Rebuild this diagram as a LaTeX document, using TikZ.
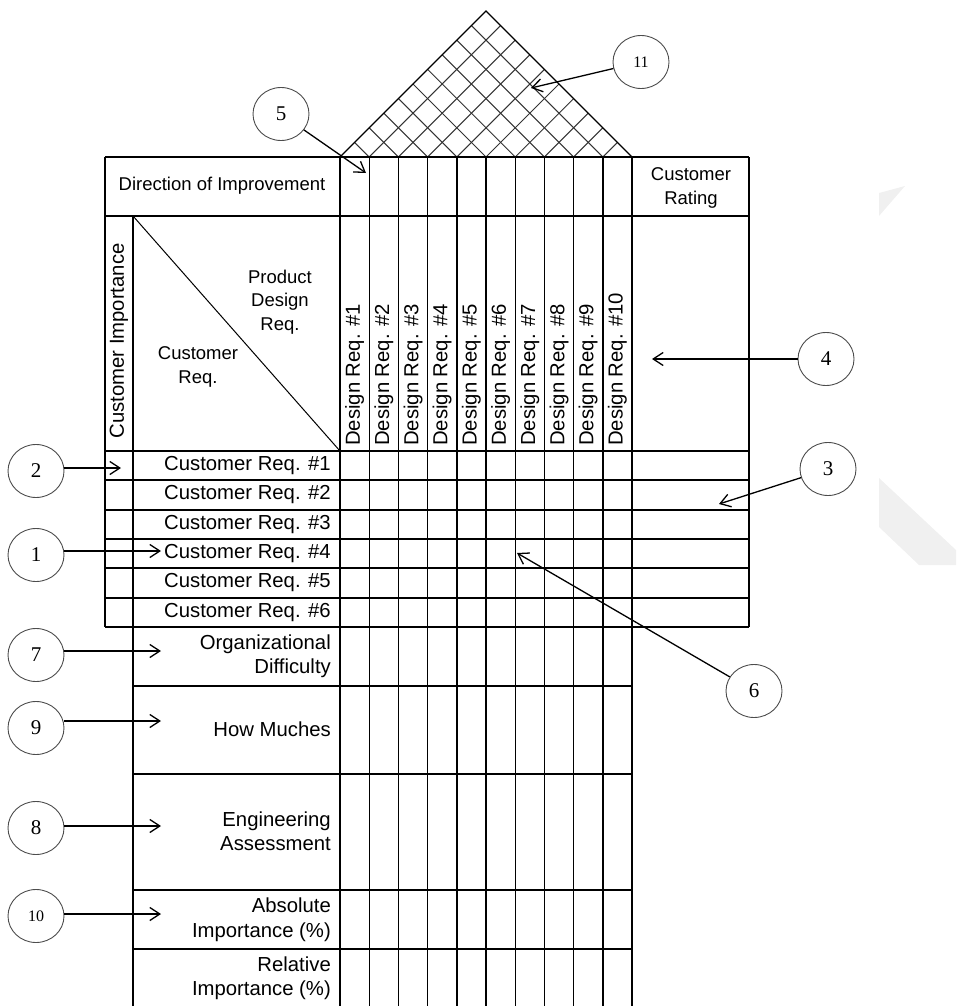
\documentclass[tikz,border=0pt]{standalone}
\usepackage{fontspec}
\setmainfont{Liberation Sans}
\newfontfamily\numfont{Liberation Serif}
\usetikzlibrary{arrows.meta,shapes.geometric}

\begin{document}
\begin{tikzpicture}[x=1pt,y=-1pt,
  tbl/.style={line width=1.4pt},
  hatch/.style={line width=1pt, black!80},
  hdr/.style={inner sep=0pt, font=\fontsize{18.5}{23.5}\selectfont, align=center},
  lbl/.style={inner sep=0pt, font=\fontsize{20.3}{24.5}\selectfont},
  num/.style={ellipse, draw=black!70, line width=0.9pt, minimum width=56pt,
    minimum height=53pt, inner sep=0pt, font=\numfont\fontsize{21}{21}\selectfont},
  smallnum/.style={num, font=\numfont\fontsize{16}{16}\selectfont},
  arr/.style={line width=1.3pt, -{Straight Barb[length=10pt,width=13pt,line width=1.3pt]}}
]
\useasboundingbox (0,0) rectangle (956,1006);

% faint marks at the right edge
\fill[black!6] (879,193) -- (905,186) -- (879,216) -- cycle;
\fill[black!6] (879,478) -- (956,550) -- (956,565) -- (919,565) -- (879,527) -- cycle;

% ---------- roof (correlation matrix) ----------
\foreach \i in {1,...,9} {
  \pgfmathsetmacro\xa{340+29.2*\i}
  \draw[hatch] (\xa,157) -- ({(632+\xa)/2},{157-(632-\xa)/2});
  \draw[hatch] (\xa,157) -- ({(340+\xa)/2},{157-(\xa-340)/2});
}
\draw[tbl, line join=miter] (340,157) -- (486,11) -- (632,157);

% ---------- main table ----------
% outer frame of the upper block
\draw[tbl] (105,157) -- (749,157);
\draw[tbl] (105,216) -- (749,216);
\draw[tbl] (105,157) -- (105,627);
\draw[tbl] (749,157) -- (749,627);
% customer requirement rows
\foreach \y in {451,480,510,539,568,598,627}
  \draw[tbl] (105,\y) -- (749,\y);
% customer importance column
\draw[tbl] (133,216) -- (133,1006);
% left label column and design requirement columns
\foreach \i in {0,...,10}
  \draw[tbl] ({340+29.2*\i},157) -- ({340+29.2*\i},1006);
% lower rows
\foreach \y in {686,774,890,949}
  \draw[tbl] (133,\y) -- (632,\y);
% corner diagonal
\draw[line width=1pt] (133,216) -- (340,451);

% ---------- texts ----------
\node[hdr] (dir) at (222,186) {Direction of Improvement};
\node[hdr] (rating) at (691,188) {Customer\\Rating};
\node[lbl, rotate=90] (imp) at (119,341) {Customer Importance};
\node[hdr] (pdr) at (280,302) {Product\\Design\\Req.};
\node[hdr] (creq) at (198,367) {Customer\\Req.};

\foreach \i in {1,...,10}
  \node[lbl, rotate=90, anchor=west] (dr\i) at ({340+29.2*(\i-0.5)},446) {Design Req. \#\i};

\foreach \i/\y in {1/466,2/495,3/524.5,4/553.5,5/583,6/612.5}
  \node[lbl, anchor=east] (cr\i) at (331,\y) {Customer Req. \#\i};

\node[lbl, anchor=east, align=right] (org) at (331,656) {Organizational\\Difficulty};
\node[lbl, anchor=east, align=right] (how) at (331,729) {How Muches};
\node[lbl, anchor=east, align=right] (eng) at (331,831) {Engineering\\Assessment};
\node[lbl, anchor=east, align=right] (abs) at (331,919.5) {Absolute\\Importance (\%)};
\node[lbl, anchor=east, align=right] (rel) at (331,978) {Relative\\Importance (\%)};

% ---------- numbered callouts ----------
\node[smallnum] (c11) at (641,62) {11};
\node[num] (c5) at (281,114) {5};
\node[num] (c4) at (826,359) {4};
\node[num] (c3) at (828,469) {3};
\node[num] (c6) at (754,691) {6};
\node[num] (c2) at (36,471) {2};
\node[num] (c1) at (36,555) {1};
\node[num] (c7) at (36,655) {7};
\node[num] (c9) at (36,728) {9};
\node[num] (c8) at (36,828) {8};
\node[smallnum] (c10) at (36,916) {10};

\coordinate (t11) at (531,88);
\coordinate (t5) at (366,173);
\coordinate (t4) at (652,359);
\coordinate (t3) at (719,504);
\coordinate (t6) at (517,553);
\coordinate (t2) at (121,468);
\coordinate (t1) at (161,551);
\coordinate (t7) at (161,651);
\coordinate (t9) at (161,721);
\coordinate (t8) at (161,826);
\coordinate (t10) at (161,914);

\draw[arr] (c11) -- (t11);
\draw[arr] (c5) -- (t5);
\draw[arr] (c4) -- (t4);
\draw[arr] (c3) -- (t3);
\draw[arr] (c6) -- (t6);
\foreach \k in {2,1,7,9,8,10}
  \draw[arr] (c\k.east |- t\k) -- (t\k);
\end{tikzpicture}
\end{document}
